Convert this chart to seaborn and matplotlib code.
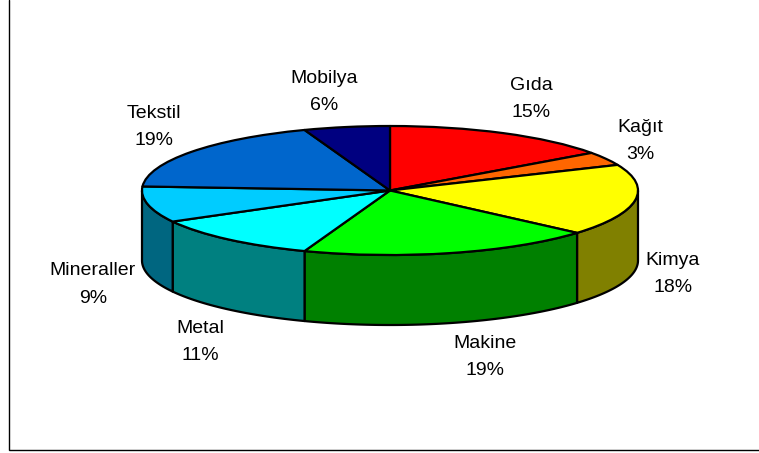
import numpy as np
import seaborn as sns
import matplotlib.pyplot as plt

sectors = ['Gıda', 'Kağıt', 'Kimya', 'Makine', 'Metal', 'Mineraller', 'Tekstil', 'Mobilya']
# printed labels
percents = [15, 3, 18, 19, 11, 9, 19, 6]
# slice sizes as measured on the picture, they differ a bit from the printed labels
shares = [15.1, 3.4, 17.9, 19.2, 11.4, 9.0, 18.4, 5.6]
top_colors = ['#FF0000', '#FF6600', '#FFFF00', '#00FF00', '#00FFFF', '#00CCFF', '#0066CC', '#000080']
side_colors = ['#800000', '#803300', '#808000', '#008000', '#008080', '#006680', '#003366', '#000040']

# label centres in pixels (x, y of middle of the two line block)
label_px = [(531, 99), (640, 141), (673, 274), (485, 357), (200, 342), (93, 284.5), (154, 127), (324, 92)]

W, H = 759, 453
CX, CY, RX, RY, DEPTH = 390, 190.5, 248, 64.5, 70

sns.set_theme(style='white')
plt.rcParams['font.family'] = ['Liberation Sans', 'DejaVu Sans']

fig = plt.figure(figsize=(W / 100, H / 100), dpi=100)
ax = fig.add_axes([0, 0, 1, 1])

line = dict(edgecolor='black', linewidth=1.6, joinstyle='round')

ax.pie(shares, colors=sns.color_palette(top_colors), startangle=90, counterclock=False,
       radius=1, wedgeprops=dict(zorder=3, **line))

# the pie gets squashed into an ellipse, so axes units are one radius
ax.set_aspect('auto')
ax.set_xlim((0 - CX) / RX, (W - CX) / RX)
ax.set_ylim((CY - H) / RY, CY / RY)
ax.axis('off')

# rim of the slices facing the viewer
depth = DEPTH / RY
edges = np.cumsum([0] + shares) / sum(shares) * 2 * np.pi
for i in range(len(shares)):
    a0 = max(edges[i], np.pi / 2)
    a1 = min(edges[i + 1], 3 * np.pi / 2)
    if a1 <= a0:
        continue
    t = np.linspace(a0, a1, 80)
    x = np.sin(t)
    y = np.cos(t)
    ax.fill(np.r_[x, x[::-1]], np.r_[y, y[::-1] - depth], facecolor=side_colors[i], zorder=2, **line)

for name, val, (px, py) in zip(sectors, percents, label_px):
    ax.text((px - CX) / RX, (CY - py) / RY, f'{name}\n{val}%', ha='center', va='center',
            fontsize=14, color='black', linespacing=1.8, zorder=4)

# chart area border, only left and bottom fall inside the picture
ax.plot([8.5 / W, 8.5 / W, 1], [1, 1 - 449.5 / H, 1 - 449.5 / H], color='black', lw=1.0,
        transform=ax.transAxes, clip_on=False, solid_joinstyle='miter')

fig.savefig('out.png', dpi=100)
